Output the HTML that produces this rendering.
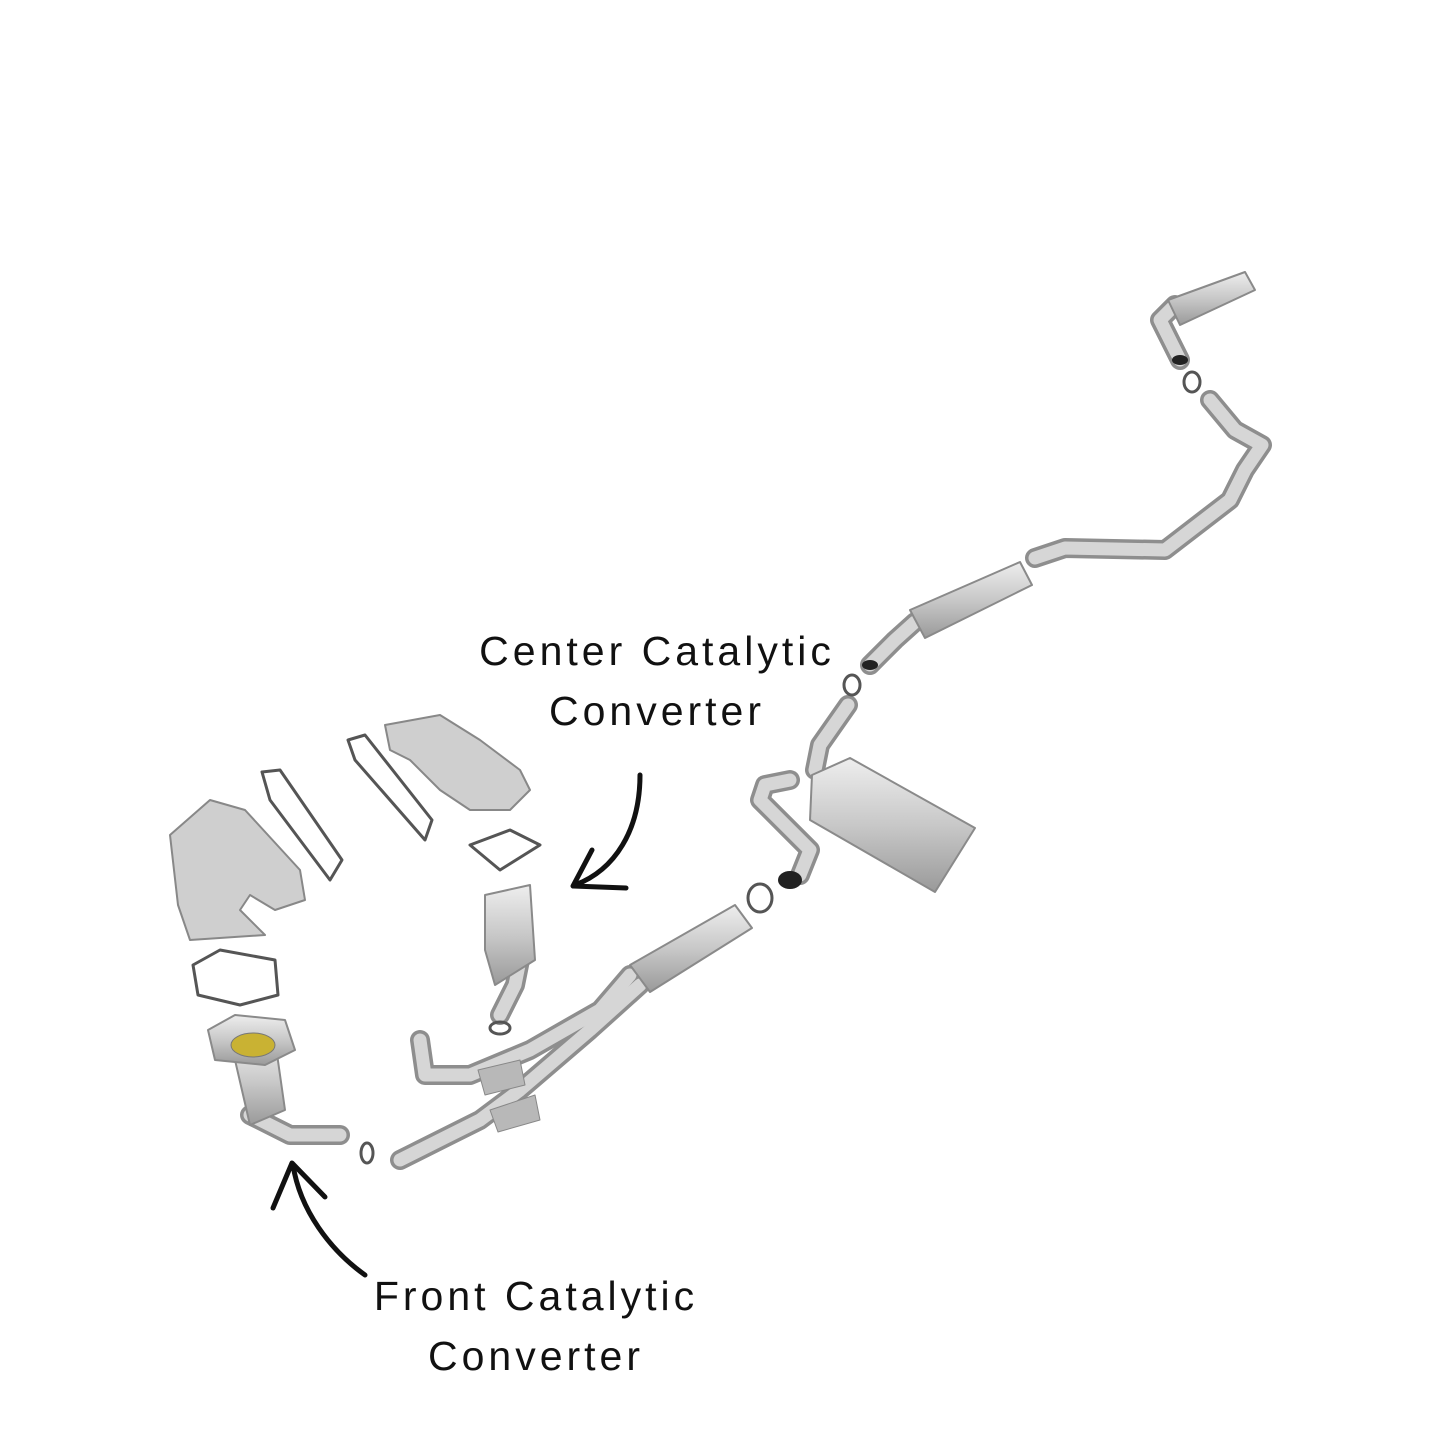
<!DOCTYPE html>
<html><head><meta charset="utf-8"><style>
html,body{margin:0;padding:0;background:#fff;}
svg{display:block}
text{font-family:"Liberation Sans",sans-serif;font-size:41px;fill:#111;letter-spacing:4px}
</style></head><body>
<svg width="1445" height="1445" viewBox="0 0 1445 1445" xmlns="http://www.w3.org/2000/svg">
<defs>
<linearGradient id="m" x1="0" y1="0" x2="0" y2="1"><stop offset="0" stop-color="#eee"/><stop offset="0.5" stop-color="#c8c8c8"/><stop offset="1" stop-color="#9a9a9a"/></linearGradient>
</defs>
<g fill="none" stroke-linecap="round" stroke-linejoin="round">
<g stroke="#8e8e8e" stroke-width="20">
<path d="M1180 360 L1160 320 L1175 305"/>
<path d="M1210 400 L1235 430 L1262 445 L1245 470 L1230 500 L1165 550 L1065 548 L1035 558"/>
<path d="M915 622 L895 640 L870 665"/>
<path d="M848 705 L820 745 L815 770"/>
<path d="M790 780 L765 785 L760 800 L790 830 L810 850 L800 875"/>
<path d="M630 975 L600 1010 L530 1050 L470 1075 L425 1075 L420 1040"/>
<path d="M640 985 L590 1030 L520 1090 L480 1120 L420 1150 L400 1160"/>
<path d="M500 1015 L515 985 L520 960"/>
<path d="M250 1115 L290 1135 L340 1135"/>
</g>
<g stroke="#d6d6d6" stroke-width="13">
<path d="M1180 360 L1160 320 L1175 305"/>
<path d="M1210 400 L1235 430 L1262 445 L1245 470 L1230 500 L1165 550 L1065 548 L1035 558"/>
<path d="M915 622 L895 640 L870 665"/>
<path d="M848 705 L820 745 L815 770"/>
<path d="M790 780 L765 785 L760 800 L790 830 L810 850 L800 875"/>
<path d="M630 975 L600 1010 L530 1050 L470 1075 L425 1075 L420 1040"/>
<path d="M640 985 L590 1030 L520 1090 L480 1120 L420 1150 L400 1160"/>
<path d="M500 1015 L515 985 L520 960"/>
<path d="M250 1115 L290 1135 L340 1135"/>
</g>
<g stroke="#8a8a8a" stroke-width="2" fill="url(#m)">
<path d="M1168 300 L1245 272 L1255 290 L1180 325 Z"/>
<path d="M910 610 L1020 562 L1032 585 L925 638 Z"/>
<path d="M812 775 L850 758 L975 828 L935 892 L810 820 Z"/>
<path d="M630 965 L735 905 L752 928 L650 992 Z"/>
<path d="M485 895 L530 885 L535 960 L495 985 L485 950 Z"/>
<path d="M235 1060 L275 1040 L285 1110 L250 1125 Z"/>
<path d="M208 1030 L235 1015 L285 1020 L295 1050 L265 1065 L215 1060 Z"/>
</g>
<ellipse cx="253" cy="1045" rx="22" ry="12" fill="#c9b233" stroke="#777"/>
<path d="M478 1070 L520 1060 L525 1085 L485 1095 Z" fill="#b8b8b8" stroke="#888"/>
<path d="M490 1110 L535 1095 L540 1120 L498 1132 Z" fill="#b8b8b8" stroke="#888"/>
<g stroke="#888" stroke-width="2" fill="#cfcfcf">
<path d="M170 835 L210 800 L245 810 L300 870 L305 900 L275 910 L250 895 L240 910 L265 935 L190 940 L178 905 Z"/>
<path d="M385 725 L440 715 L480 740 L520 770 L530 790 L510 810 L470 810 L440 790 L410 760 L390 750 Z"/>
</g>
<g stroke="#555" stroke-width="3" fill="none">
<path d="M262 772 L280 770 L342 860 L330 880 L270 800 Z"/>
<path d="M348 740 L365 735 L432 820 L425 840 L355 760 Z"/>
<path d="M470 845 L510 830 L540 845 L500 870 Z"/>
<path d="M193 965 L220 950 L275 960 L278 995 L240 1005 L198 995 Z"/>
<ellipse cx="500" cy="1028" rx="10" ry="6"/>
<ellipse cx="367" cy="1153" rx="6" ry="10"/>
<ellipse cx="760" cy="898" rx="12" ry="14"/>
<ellipse cx="852" cy="685" rx="8" ry="10"/>
<ellipse cx="1192" cy="382" rx="8" ry="10"/>
</g>
<ellipse cx="790" cy="880" rx="12" ry="9" fill="#222"/>
<ellipse cx="870" cy="665" rx="8" ry="5" fill="#222"/>
<ellipse cx="1180" cy="360" rx="8" ry="5" fill="#222"/>
<g stroke="#111" stroke-width="5">
<path d="M640 775 C640 830 615 870 575 885"/>
<path d="M592 850 L573 886 L626 888"/>
<path d="M365 1275 C330 1250 300 1210 293 1165"/>
<path d="M273 1208 L292 1163 L325 1197"/>
</g>
</g>
<text x="657" y="665" text-anchor="middle">Center Catalytic</text>
<text x="657" y="725" text-anchor="middle">Converter</text>
<text x="536" y="1310" text-anchor="middle">Front Catalytic</text>
<text x="536" y="1370" text-anchor="middle">Converter</text>
</svg>
</body></html>
